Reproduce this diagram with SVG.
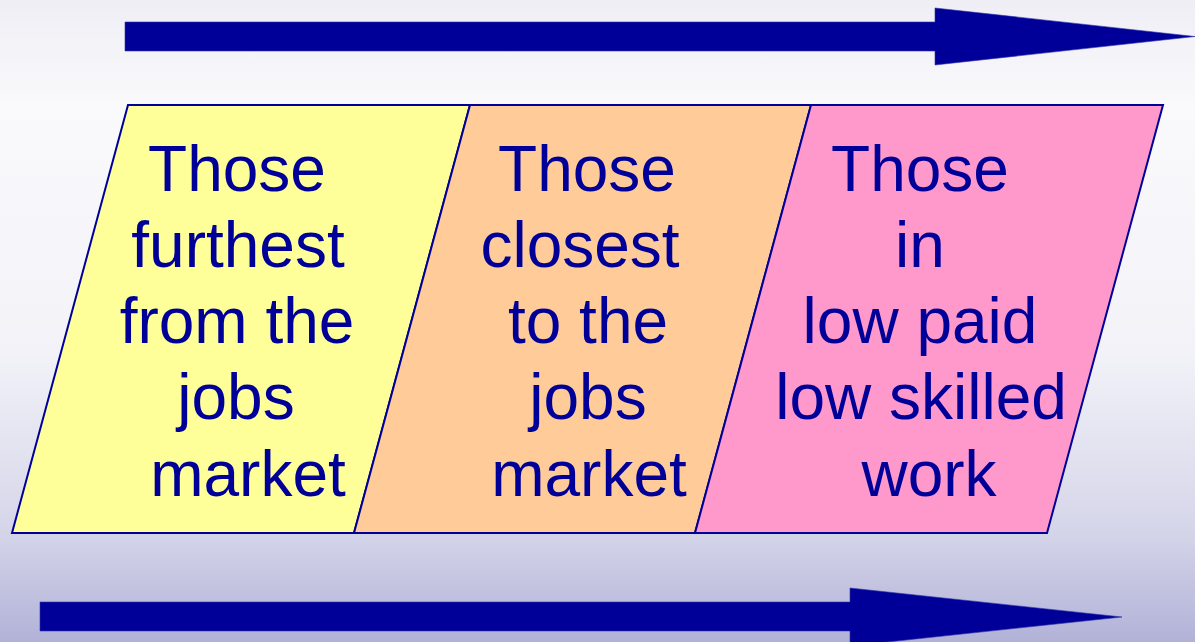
<svg xmlns="http://www.w3.org/2000/svg" width="1195" height="642" viewBox="0 0 1195 642">
  <defs>
    <linearGradient id="bg" x1="0" y1="0" x2="0" y2="1">
      <stop offset="0" stop-color="#EFEEF5"/>
      <stop offset="0.17" stop-color="#FAFAFC"/>
      <stop offset="0.55" stop-color="#F2F2F8"/>
      <stop offset="0.82" stop-color="#D6D6EA"/>
      <stop offset="1" stop-color="#B2B2D8"/>
    </linearGradient>
    <style>
      .box { stroke: #000099; stroke-width: 2; stroke-linejoin: miter; }
      .arrow { fill: #000099; stroke: #3333AA; stroke-width: 0.6; }
      .lbl { font-family: "Liberation Sans", Arial, sans-serif; font-size: 64px; fill: #000099; text-anchor: middle; }
    </style>
  </defs>
  <rect x="0" y="0" width="1195" height="642" fill="url(#bg)"/>

  <g id="connectors">
    <polygon class="arrow" points="125,22 935,22 935,8 1195,36.5 935,65 935,51 125,51"/>
    <polygon class="arrow" points="40,602 850,602 850,588 1122,617 850,646 850,631 40,631"/>
  </g>

  <g id="node-furthest">
    <polygon class="box" fill="#FFFF99" points="128,105 470,105 354,533 12,533"/>
    <text class="lbl" x="237" y="191">Those</text>
    <text class="lbl" x="238" y="267">furthest</text>
    <text class="lbl" x="237" y="343">from the</text>
    <text class="lbl" x="236" y="419">jobs</text>
    <text class="lbl" x="248" y="496">market</text>
  </g>

  <g id="node-closest">
    <polygon class="box" fill="#FFCC99" points="470,105 811,105 695,533 354,533"/>
    <text class="lbl" x="587" y="191">Those</text>
    <text class="lbl" x="580" y="267">closest</text>
    <text class="lbl" x="588" y="343">to the</text>
    <text class="lbl" x="588" y="419">jobs</text>
    <text class="lbl" x="589" y="496">market</text>
  </g>

  <g id="node-lowpaid">
    <polygon class="box" fill="#FF99CC" points="811,105 1163,105 1047,533 695,533"/>
    <text class="lbl" x="920" y="191">Those</text>
    <text class="lbl" x="920" y="267">in</text>
    <text class="lbl" x="920" y="343">low paid</text>
    <text class="lbl" x="921" y="419">low skilled</text>
    <text class="lbl" x="929" y="496">work</text>
  </g>
</svg>
